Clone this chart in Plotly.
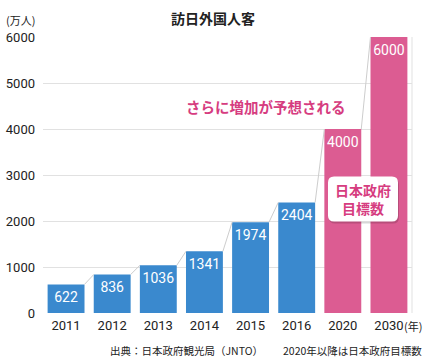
import plotly.graph_objects as go

years = ["2011", "2012", "2013", "2014", "2015", "2016", "2020", "2030"]
visitors = [622, 836, 1036, 1341, 1974, 2404, 4000, 6000]
is_target = [False, False, False, False, False, False, True, True]
y_ticks = [0, 1000, 2000, 3000, 4000, 5000, 6000]

BLUE = "rgb(58,137,206)"
PINK = "rgb(220,92,146)"
PINK_TEXT = "rgb(214,60,128)"
JP = "Noto Sans CJK JP"
NUM = "Roboto, Noto Sans CJK JP"

xs = list(range(len(years)))
half = 0.4
label_drop = 310  # value-label offset below bar top, in axis units

W, H, L, R, T, B = 426, 358, 43, 14, 37, 45
pw, ph = W - L - R, H - T - B
def px(x): return (x - L) / pw
def py(y): return (H - B - y) / ph

fig = go.Figure()

# connector lines between bar tops
cx, cy = [], []
for i in range(len(years) - 1):
    cx += [xs[i] + half, xs[i + 1] - half, None]
    cy += [visitors[i], visitors[i + 1], None]
fig.add_trace(go.Scatter(x=cx, y=cy, mode="lines",
                         line=dict(color="rgb(205,205,205)", width=1),
                         hoverinfo="skip", showlegend=False))

fig.add_trace(go.Bar(
    x=xs, y=visitors, width=2 * half,
    marker=dict(color=[PINK if t else BLUE for t in is_target], line=dict(width=0)),
    showlegend=False,
))

fig.add_trace(go.Scatter(
    x=xs, y=[v - label_drop for v in visitors], mode="text",
    text=[str(v) for v in visitors], textposition="middle center",
    textfont=dict(color="white", size=14, family=NUM),
    hoverinfo="skip", showlegend=False,
))

fig.update_layout(
    width=W, height=H,
    margin=dict(l=L, r=R, t=T, b=B, autoexpand=False),
    plot_bgcolor="white", paper_bgcolor="white",
    font=dict(family=JP, color="#222"),
    xaxis=dict(range=[-0.5, 7.5], tickvals=xs, ticktext=years, showgrid=False, automargin=False,
               tickfont=dict(size=13, family=NUM, color="#222"), ticks="", zeroline=False,
               showline=False, ticklabelstandoff=3),
    yaxis=dict(range=[0, 6000], tickvals=y_ticks, showgrid=True, gridcolor="rgb(225,225,225)",
               gridwidth=1, zeroline=False, tickfont=dict(size=13, family=NUM, color="#222"),
               ticklabelstandoff=7, automargin=False),
    bargap=0.2,
)

# right border line
fig.add_shape(type="line", xref="paper", yref="paper", x0=1, x1=1, y0=0, y1=1,
              line=dict(color="rgb(225,225,225)", width=1))

# rounded box with shadow
def rrect(w, h, r):
    x0, x1, y0, y1 = -w / 2, w / 2, -h / 2, h / 2
    return (f"M{x0+r},{y0} L{x1-r},{y0} Q{x1},{y0} {x1},{y0+r} L{x1},{y1-r} Q{x1},{y1} {x1-r},{y1} "
            f"L{x0+r},{y1} Q{x0},{y1} {x0},{y1-r} L{x0},{y0+r} Q{x0},{y0} {x0+r},{y0} Z")

fig.add_shape(type="path", xref="paper", yref="paper", xsizemode="pixel", ysizemode="pixel",
              xanchor=px(364), yanchor=py(201), path=rrect(70, 45, 6),
              fillcolor="rgba(0,0,0,0.16)", line=dict(width=0))
fig.add_shape(type="path", xref="paper", yref="paper", xsizemode="pixel", ysizemode="pixel",
              xanchor=px(363), yanchor=py(199), path=rrect(70, 45, 6),
              fillcolor="white", line=dict(width=0))

def note(x, y, text, size, color="#222", xanchor="center", bold=False):
    fig.add_annotation(x=px(x), y=py(y), xref="paper", yref="paper",
                       text=f"<b>{text}</b>" if bold else text,
                       showarrow=False, xanchor=xanchor, yanchor="middle", align="center",
                       font=dict(size=size, color=color, family=JP))

note(363, 199, "日本政府<br>目標数", 14, PINK_TEXT, bold=True)
note(266, 106, "さらに増加が予想される", 14.5, PINK_TEXT, bold=True)
note(213, 18, "訪日外国人客", 14, bold=True)
note(20, 20, "(万人)", 11)
note(402, 326, "(年)", 11, xanchor="left")
note(108, 350, "出典：日本政府観光局（JNTO）", 10.5, xanchor="left")
note(424, 350, "2020年以降は日本政府目標数", 10.5, xanchor="right")

fig.write_html("out.html", config={"displayModeBar": False},
               post_script="document.body.style.margin='0';")
